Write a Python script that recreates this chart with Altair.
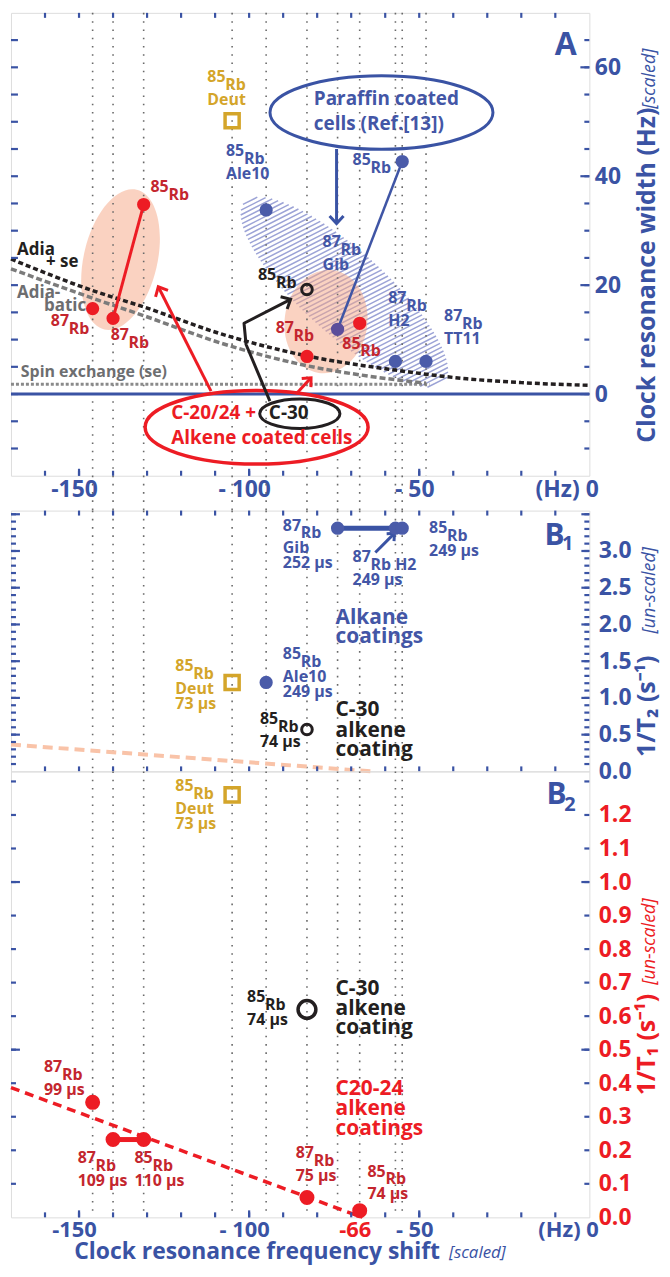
import altair as alt
import numpy as np
import pandas as pd

FONT = "Open Sans"
AXIS_BLUE = "#3A53A4"
LBL_BLUE = "#4356A6"
PT_BLUE = "#4A5BA9"
PURPLE = "#5C4E9B"
RED = "#ED1C24"
DRED = "#C4262E"
GOLD = "#D4A52A"
BLACK = "#231F20"
GRAY = "#6D6E70"
PINK = "#F5A584"
HATCH = "#9CA3D6"

W = 581
H_A, H_B1, H_B2 = 465, 262, 448
X_DOM = [-170, 0]
A_DOM = [-15, 70]
B1_DOM = [0, 3.55]
B2_DOM = [0, 1.33]

# ---------------- data ----------------
guide_x = [-146, -140, -131, -105, -95, -83, -74, -67.5, -57, -55]
guide_x_a_only = [-48]

# Panel A : clock resonance width (Hz)
a_alkene_x = [-131, -146, -140, -83, -67.5]
a_alkene_y = [34.8, 15.7, 13.9, 6.9, 13.0]
a_paraffin_x = [-95, -55, -57, -48]
a_paraffin_y = [33.8, 42.7, 6.0, 6.0]
a_gib_x, a_gib_y = [-74], [11.9]
a_deut_x, a_deut_y = [-105], [50.2]
a_c30_x, a_c30_y = [-83], [19.2]
a_red_pair_x, a_red_pair_y = [-131, -140], [34.8, 13.9]
a_blue_pair_x, a_blue_pair_y = [-55, -74], [42.7, 11.9]

adia_se_x = [-170, -146, -131, -108, -83, -57, -36, -20, 0]
adia_se_y = [24.8, 19.0, 16.0, 11.0, 7.0, 4.4, 2.8, 2.1, 1.6]
adia_x = [-170, -146, -131, -108, -83, -65, -48]
adia_y = [23.0, 17.6, 14.4, 9.3, 5.2, 3.3, 2.0]
se_x = [-170, -47]
se_y = [1.8, 1.8]

# Panel B1 : 1/T2
b1_alkane_x = [-74, -57, -55]
b1_alkane_y = [3.31, 3.31, 3.31]
b1_ale10_x, b1_ale10_y = [-95], [1.21]
b1_deut_x, b1_deut_y = [-105], [1.21]
b1_c30_x, b1_c30_y = [-83], [0.57]
b1_trend_x, b1_trend_y = [-170, -64], [0.365, 0.0]

# Panel B2 : 1/T1
b2_alkene_x = [-146, -140, -131, -83, -67.5]
b2_alkene_y = [0.343, 0.232, 0.232, 0.059, 0.02]
b2_pair_x, b2_pair_y = [-140, -131], [0.232, 0.232]
b2_deut_x, b2_deut_y = [-105], [1.26]
b2_c30_x, b2_c30_y = [-83], [0.62]
b2_trend_x, b2_trend_y = [-170, -66.8], [0.387, 0.0]

# tick positions / labels
x_minor = list(range(-160, 0, 10))
x_major = [-150, -100, -50]
a_y_minor = list(range(-10, 70, 5))
a_y_major = [0, 20, 40, 60]
b1_minor = [round(0.1 * i, 2) for i in range(1, 36)]
b1_major = [0.5, 1.0, 1.5, 2.0, 2.5, 3.0, 3.5]
b1_labels = [0.0, 0.5, 1.0, 1.5, 2.0, 2.5, 3.0]
b2_minor = [round(0.1 * i, 2) for i in range(1, 14)]
b2_major = [0.5, 1.0]
b2_labels = [round(0.1 * i, 1) for i in range(0, 13)]

# isotope labels: x, y, mass number, symbol, extra lines, colour
A_iso = [
    (-112.3, 55.9, "85", "Rb", "Deut", GOLD),
    (-106.8, 42.2, "85", "Rb", "Ale10", LBL_BLUE),
    (-69.6, 40.6, "85", "Rb", "", LBL_BLUE),
    (-78.4, 25.6, "87", "Rb", "Gib", LBL_BLUE),
    (-59.1, 15.2, "87", "Rb", "H2", LBL_BLUE),
    (-42.7, 11.9, "87", "Rb", "TT11", LBL_BLUE),
    (-129.0, 35.6, "85", "Rb", "", DRED),
    (-158.3, 11.0, "87", "Rb", "", DRED),
    (-140.7, 8.4, "87", "Rb", "", DRED),
    (-97.4, 19.4, "85", "Rb", "", BLACK),
    (-92.2, 9.7, "87", "Rb", "", DRED),
    (-72.6, 6.9, "85", "Rb", "", DRED),
]
A_txt = [
    (-10.2, 62.3, "A", AXIS_BLUE, 32),
    (-81.0, 53.0, "Paraffin coated", LBL_BLUE, 19),
    (-81.0, 48.4, "cells (Ref.[13])", LBL_BLUE, 19),
    (-168.2, 25.6, "Adia", BLACK, 17),
    (-159.7, 23.4, "+ se", BLACK, 17),
    (-168.2, 17.7, "Adia-", GRAY, 17),
    (-160.3, 15.2, "batic", GRAY, 17),
    (-167.1, 3.1, "Spin exchange (se)", GRAY, 16),
    (-122.9, -4.6, "C-20/24 +", RED, 19),
    (-94.2, -4.6, "C-30", BLACK, 19),
    (-122.9, -9.1, "Alkene coated cells", RED, 19),
]
B1_iso = [
    (-90.1, 3.17, "87", "Rb", "Gib\n252 µs", LBL_BLUE),
    (-47.1, 3.14, "85", "Rb", "249 µs", LBL_BLUE),
    (-69.6, 2.74, "87", "Rb H2", "249 µs", LBL_BLUE),
    (-90.1, 1.42, "85", "Rb", "Ale10\n249 µs", LBL_BLUE),
    (-121.7, 1.26, "85", "Rb", "Deut\n73 µs", GOLD),
    (-96.8, 0.54, "85", "Rb", "74 µs", BLACK),
]
B1_txt = [
    (-13.2, 3.08, "B", AXIS_BLUE, 30),
    (-8.0, 3.01, "1", AXIS_BLUE, 20),
    (-74.6, 2.005, "Alkane", LBL_BLUE, 21),
    (-74.6, 1.748, "coatings", LBL_BLUE, 21),
    (-74.6, 0.759, "C-30", BLACK, 21),
    (-74.6, 0.474, "alkene", BLACK, 21),
    (-74.6, 0.203, "coating", BLACK, 21),
]
B2_iso = [
    (-121.7, 1.247, "85", "Rb", "Deut\n73 µs", GOLD),
    (-100.6, 0.618, "85", "Rb", "74 µs", BLACK),
    (-160.3, 0.410, "87", "Rb", "99 µs", DRED),
    (-150.4, 0.139, "87", "Rb", "109 µs", DRED),
    (-133.7, 0.139, "85", "Rb", "110 µs", DRED),
    (-86.3, 0.154, "87", "Rb", "75 µs", DRED),
    (-65.2, 0.098, "85", "Rb", "74 µs", DRED),
]
B2_txt = [
    (-12.6, 1.232, "B", AXIS_BLUE, 30),
    (-7.4, 1.211, "2", AXIS_BLUE, 20),
    (-74.6, 0.662, "C-30", BLACK, 21),
    (-74.6, 0.603, "alkene", BLACK, 21),
    (-74.6, 0.546, "coating", BLACK, 21),
    (-74.6, 0.365, "C20-24", RED, 21),
    (-74.6, 0.306, "alkene", RED, 21),
    (-74.6, 0.246, "coatings", RED, 21),
]


# ---------------- axes ----------------
def y_axis(values, title, title_y, lab_color, pad, fmt=None, title_color=AXIS_BLUE):
    kw = dict(orient="right", values=values, labelFont=FONT, labelFontWeight="bold", labelFontSize=23,
              labelColor=lab_color, labelPadding=pad, ticks=False, domain=False, grid=False,
              title=title, titleFont=FONT, titleFontSize=25, titleFontWeight="bold", titleColor=title_color,
              titleAngle=270, titleAlign="center", titleBaseline="alphabetic", titleX=65, titleY=title_y,
              labelFlush=False, labelOverlap=False)
    if fmt:
        kw["format"] = fmt
    return alt.Axis(**kw)


def x_axis(values, label_expr, pad, title=None, size=23):
    kw = dict(orient="bottom", values=values, labelExpr=label_expr, labelFont=FONT, labelFontWeight="bold",
              labelFontSize=size, labelPadding=pad, labelBaseline="top",
              labelColor={"condition": {"test": "datum.value == -67.5", "value": RED}, "value": AXIS_BLUE},
              labelAlign={"condition": {"test": "datum.value == 0", "value": "right"}, "value": "center"},
              labelOffset={"condition": {"test": "datum.value == 0", "value": 9}, "value": -5},
              ticks=False, domain=False, grid=False, labelFlush=False, labelOverlap=False, labelBound=False)
    if title:
        kw.update(title=title, titleFont=FONT, titleFontSize=23, titleFontWeight="bold", titleColor=AXIS_BLUE,
                  titleAlign="left", titleBaseline="alphabetic", titleX=63, titleY=41)
    else:
        kw["title"] = None
    return alt.Axis(**kw)


LBL_A = "datum.value == 0 ? '(Hz) 0' : datum.value == -150 ? '-150' : '- ' + (-datum.value)"
LBL_B2 = ("datum.value == 0 ? '(Hz) 0' : datum.value == -150 ? '-150' : "
          "datum.value == -67.5 ? '-66' : '- ' + (-datum.value)")

AX = {
    "A": (x_axis([-150, -100, -50, 0], LBL_A, 3),
          y_axis(a_y_major, "Clock resonance width (Hz)", 263, AXIS_BLUE, 5)),
    "B1": (None,
           y_axis(b1_labels, "1/T₂ (s⁻¹)", 196, AXIS_BLUE, 9, fmt=".1f")),
    "B2": (x_axis([-150, -100, -67.5, -50, 0], LBL_B2, 2, title="Clock resonance frequency shift", size=22),
           y_axis(b2_labels, "1/T₁ (s⁻¹)", 274, RED, 9, fmt=".1f", title_color=RED)),
}
CUR = {"p": "A"}


# ---------------- helpers ----------------
def xenc(field="x"):
    return alt.X(f"{field}:Q", scale=alt.Scale(domain=X_DOM, nice=False, zero=False), axis=AX[CUR["p"]][0])


def yenc(dom, field="y"):
    return alt.Y(f"{field}:Q", scale=alt.Scale(domain=dom, nice=False, zero=False), axis=AX[CUR["p"]][1])


def ellipse_path(rx, ry):
    k = 0.5523
    p = [(rx, 0), (rx, ry * k), (rx * k, ry), (0, ry), (-rx * k, ry), (-rx, ry * k), (-rx, 0),
         (-rx, -ry * k), (-rx * k, -ry), (0, -ry), (rx * k, -ry), (rx, -ry * k), (rx, 0)]
    f = lambda q: f"{q[0]:.4f} {q[1]:.4f}"
    s = "M " + f(p[0])
    for i in range(1, 13, 3):
        s += " C " + f(p[i]) + " " + f(p[i + 1]) + " " + f(p[i + 2])
    return s + " Z"


def hatch_path(b, phi_deg, step):
    phi = np.radians(phi_deg)
    ux, uy = np.cos(phi), np.sin(phi)
    nx, ny = -uy, ux
    A = ux ** 2 + (uy / b) ** 2
    dmax = np.sqrt(nx ** 2 + (b * ny) ** 2)
    segs = []
    d = -dmax + step / 2
    while d < dmax:
        Bq = 2 * d * (nx * ux + ny * uy / b ** 2)
        C = d * d * (nx ** 2 + (ny / b) ** 2) - 1
        disc = Bq * Bq - 4 * A * C
        if disc > 0:
            r = np.sqrt(disc)
            t1 = (-Bq - r) / (2 * A)
            t2 = (-Bq + r) / (2 * A)
            segs.append(f"M{d*nx+t1*ux:.4f} {d*ny+t1*uy:.4f}L{d*nx+t2*ux:.4f} {d*ny+t2*uy:.4f}")
        d += step
    return "".join(segs)


V_HEAD = "M -1 1.1 L 0 0 L 1 1.1"


def pts(xs, ys, dom, circle=True, **kw):
    df = pd.DataFrame({"x": xs, "y": ys})
    c = alt.Chart(df)
    m = c.mark_circle(opacity=1, **kw) if circle else c.mark_point(opacity=1, **kw)
    return m.encode(x=xenc(), y=yenc(dom))


def line(xs, ys, dom, **kw):
    kw.setdefault("strokeJoin", "round")
    df = pd.DataFrame({"x": xs, "y": ys, "o": list(range(len(xs)))})
    return alt.Chart(df).mark_line(**kw).encode(x=xenc(), y=yenc(dom), order="o:Q")


def shape(x, y, dom, path, size, angle=0, opacity=1, **kw):
    df = pd.DataFrame({"x": [x], "y": [y]})
    return alt.Chart(df).mark_point(shape=path, size=size, angle=angle, opacity=opacity, **kw).encode(
        x=xenc(), y=yenc(dom))


def guides(xs, h, extend):
    df = pd.DataFrame({"x": xs})
    return alt.Chart(df).mark_rule(color="#6A6A6A", strokeWidth=1.6, strokeDash=[1.6, 6.7]).encode(
        x=xenc(), y=alt.value(0), y2=alt.value(h + extend))


def ticks(values, side, length, dom, h):
    df = pd.DataFrame({"x": values, "y": values})
    m = alt.Chart(df).mark_rule(color=AXIS_BLUE, strokeWidth=2.2)
    if side in ("left", "right"):
        y = yenc(dom)
        if side == "left":
            return m.encode(y=y, x=alt.value(0), x2=alt.value(length))
        return m.encode(y=y, x=alt.value(W - length), x2=alt.value(W))
    x = xenc()
    if side == "top":
        return m.encode(x=x, y=alt.value(0), y2=alt.value(length))
    return m.encode(x=x, y=alt.value(h - length), y2=alt.value(h))


def iso_labels(rows, dom):
    df = pd.DataFrame(rows, columns=["x", "y", "iso", "main", "rest", "c"])
    base = alt.Chart(df).encode(x=xenc(), y=yenc(dom), color=alt.Color("c:N", scale=None))
    common = dict(align="left", baseline="alphabetic", font=FONT, fontWeight="bold", fontSize=16)
    return [
        base.mark_text(dy=-8, **common).encode(text="iso:N"),
        base.mark_text(dx=18, **common).encode(text="main:N"),
        base.mark_text(dy=15, lineBreak="\n", lineHeight=15, **common).encode(text="rest:N"),
    ]


def group_texts(rows, dom):
    df = pd.DataFrame(rows, columns=["x", "y", "t", "c", "s"])
    return alt.Chart(df).mark_text(align="left", baseline="alphabetic", font=FONT, fontWeight="bold").encode(
        x=xenc(), y=yenc(dom), text="t:N", color=alt.Color("c:N", scale=None),
        size=alt.Size("s:Q", scale=None))


def side_text(text, x, y, color, size=18, angle=270, align="center"):
    df = pd.DataFrame({"t": [text]})
    return alt.Chart(df).mark_text(angle=angle, align=align, baseline="alphabetic", font=FONT,
                                   fontStyle="italic", fontSize=size,
                                   color=color).encode(text="t:N", x=alt.value(x), y=alt.value(y))


# ---------------- panel A ----------------
CUR["p"] = "A"
A_layers = [
    shape(-72, 18.7, A_DOM, hatch_path(0.311, -69, 4.2 / 135), 72900, angle=42, filled=False,
          color=HATCH, strokeWidth=1.5),
    shape(-137.8, 24.7, A_DOM, ellipse_path(0.514, 1), 20736, angle=13, opacity=0.5, filled=True,
          color=PINK, strokeWidth=0),
    shape(-77.4, 13.3, A_DOM, ellipse_path(0.8, 1), 10816, angle=8, opacity=0.5, filled=True,
          color=PINK, strokeWidth=0),
    guides(guide_x, H_A, 35),
    guides(guide_x_a_only, H_A, 0),
    alt.Chart(pd.DataFrame({"y": [0]})).mark_rule(color=AXIS_BLUE, strokeWidth=3).encode(
        y=yenc(A_DOM), x=alt.value(0), x2=alt.value(W)),
    line(se_x, se_y, A_DOM, color="#8A8A8A", strokeWidth=3, strokeDash=[3, 2]),
    line(adia_x, adia_y, A_DOM, color="#7B7B7B", strokeWidth=3.5, strokeDash=[6, 3], interpolate="monotone"),
    line(adia_se_x, adia_se_y, A_DOM, color=BLACK, strokeWidth=3.5, strokeDash=[5, 3], interpolate="monotone"),
    shape(-61.1, 51.7, A_DOM, ellipse_path(1, 0.33), 50176, filled=False, color=AXIS_BLUE, strokeWidth=3),
    shape(-97.8, -6.1, A_DOM, ellipse_path(1, 0.33), 50176, filled=False, color=RED, strokeWidth=3.5),
    shape(-85.1, -3.6, A_DOM, ellipse_path(1, 0.367), 6497, filled=False, color=BLACK, strokeWidth=3),
    # arrows
    line([-74.3, -74.3], [45.0, 31.3], A_DOM, color=AXIS_BLUE, strokeWidth=3),
    shape(-74.3, 31.3, A_DOM, V_HEAD, 196, angle=180, filled=False, color=AXIS_BLUE, strokeWidth=3),
    line([-111.2, -126.7], [0.55, 19.7], A_DOM, color=RED, strokeWidth=3),
    shape(-126.7, 19.7, A_DOM, V_HEAD, 196, angle=333, filled=False, color=RED, strokeWidth=3),
    line([-86.2, -81.8], [0.0, 2.99], A_DOM, color=RED, strokeWidth=3),
    shape(-81.8, 2.99, A_DOM, V_HEAD, 160, angle=43, filled=False, color=RED, strokeWidth=3),
    line([-93.9, -100.9, -101.5, -87.8], [-1.3, 9.1, 13.0, 17.4], A_DOM, color=BLACK, strokeWidth=3),
    shape(-87.8, 17.4, A_DOM, V_HEAD, 196, angle=62, filled=False, color=BLACK, strokeWidth=3),
    # connections
    line(a_red_pair_x, a_red_pair_y, A_DOM, color=RED, strokeWidth=3),
    line(a_blue_pair_x, a_blue_pair_y, A_DOM, color="#3F55A5", strokeWidth=2.5),
    # points
    pts(a_alkene_x, a_alkene_y, A_DOM, size=177, color=RED),
    pts(a_paraffin_x, a_paraffin_y, A_DOM, size=177, color=PT_BLUE),
    pts(a_gib_x, a_gib_y, A_DOM, size=177, color=PURPLE),
    pts(a_deut_x, a_deut_y, A_DOM, circle=False, shape="square", filled=False, size=200, strokeWidth=3.5,
        color=GOLD),
    pts(a_c30_x, a_c30_y, A_DOM, circle=False, shape="circle", filled=False, size=113, strokeWidth=3,
        color=BLACK),
]
A_layers += iso_labels(A_iso, A_DOM)
A_layers += [
    group_texts(A_txt, A_DOM),
    ticks(a_y_minor, "left", 7, A_DOM, H_A),
    ticks(a_y_minor, "right", 5, A_DOM, H_A),
    ticks(a_y_major, "right", 9, A_DOM, H_A),
    ticks(x_minor, "top", 5, A_DOM, H_A),
    ticks(x_minor, "bottom", 5, A_DOM, H_A),
    ticks(x_major, "bottom", 7, A_DOM, H_A),
    side_text("[scaled]", W + 66, 66, AXIS_BLUE),
]
panel_a = alt.layer(*A_layers).properties(width=W, height=H_A)

# ---------------- panel B1 ----------------
CUR["p"] = "B1"
B1_layers = [
    guides(guide_x, H_B1, 0),
    line(b1_trend_x, b1_trend_y, B1_DOM, color="#F9C3A8", strokeWidth=4, strokeDash=[10, 6]),
    line(b1_alkane_x, b1_alkane_y, B1_DOM, color=AXIS_BLUE, strokeWidth=5),
    line([-62.9, -57.3], [2.98, 3.24], B1_DOM, color=AXIS_BLUE, strokeWidth=3),
    shape(-57.3, 3.24, B1_DOM, V_HEAD, 110, angle=45, filled=False, color=AXIS_BLUE, strokeWidth=3),
    pts(b1_alkane_x, b1_alkane_y, B1_DOM, size=177, color=PT_BLUE),
    pts(b1_ale10_x, b1_ale10_y, B1_DOM, size=177, color=PT_BLUE),
    pts(b1_deut_x, b1_deut_y, B1_DOM, circle=False, shape="square", filled=False, size=200, strokeWidth=3.5,
        color=GOLD),
    pts(b1_c30_x, b1_c30_y, B1_DOM, circle=False, shape="circle", filled=False, size=113, strokeWidth=3,
        color=BLACK),
]
B1_layers += iso_labels(B1_iso, B1_DOM)
B1_layers += [
    group_texts(B1_txt, B1_DOM),
    ticks(b1_minor, "left", 5, B1_DOM, H_B1),
    ticks(b1_major, "left", 9, B1_DOM, H_B1),
    ticks(b1_minor, "right", 5, B1_DOM, H_B1),
    ticks(b1_major, "right", 8, B1_DOM, H_B1),
    ticks(x_minor, "top", 5, B1_DOM, H_B1),
    ticks(x_minor, "bottom", 5, B1_DOM, H_B1),
    side_text("[un-scaled]", W + 66, 80, AXIS_BLUE),
]
panel_b1 = alt.layer(*B1_layers).properties(width=W, height=H_B1)

# ---------------- panel B2 ----------------
CUR["p"] = "B2"
B2_layers = [
    guides(guide_x, H_B2, 0),
    line(b2_trend_x, b2_trend_y, B2_DOM, color=RED, strokeWidth=3.5, strokeDash=[9, 6]),
    line(b2_pair_x, b2_pair_y, B2_DOM, color=RED, strokeWidth=5),
    pts(b2_alkene_x, b2_alkene_y, B2_DOM, size=227, color=RED),
    pts(b2_deut_x, b2_deut_y, B2_DOM, circle=False, shape="square", filled=False, size=200, strokeWidth=3.5,
        color=GOLD),
    pts(b2_c30_x, b2_c30_y, B2_DOM, circle=False, shape="circle", filled=False, size=320, strokeWidth=3.5,
        color=BLACK),
]
B2_layers += iso_labels(B2_iso, B2_DOM)
B2_layers += [
    group_texts(B2_txt, B2_DOM),
    ticks(b2_minor, "left", 5, B2_DOM, H_B2),
    ticks(b2_major, "left", 9, B2_DOM, H_B2),
    ticks(b2_minor, "right", 5, B2_DOM, H_B2),
    ticks(b2_major, "right", 8, B2_DOM, H_B2),
    ticks(x_minor, "bottom", 5, B2_DOM, H_B2),
    ticks(x_major, "bottom", 7, B2_DOM, H_B2),
    side_text("[un-scaled]", W + 66, 171, RED),
    side_text("[scaled]", 440, H_B2 + 41, AXIS_BLUE, size=17, angle=0, align="left"),
]
panel_b2 = alt.layer(*B2_layers).properties(width=W, height=H_B2)

lower = alt.vconcat(panel_b1, panel_b2, spacing=0, bounds="flush")
chart = alt.vconcat(panel_a, lower, spacing=35, bounds="flush").properties(
    padding={"left": 0, "top": 0, "right": 2, "bottom": 0}
).configure_view(stroke=AXIS_BLUE, strokeWidth=3, strokeJoin="round").configure(background="white")

chart.save("out.html", embed_options={"renderer": "svg", "actions": False})
